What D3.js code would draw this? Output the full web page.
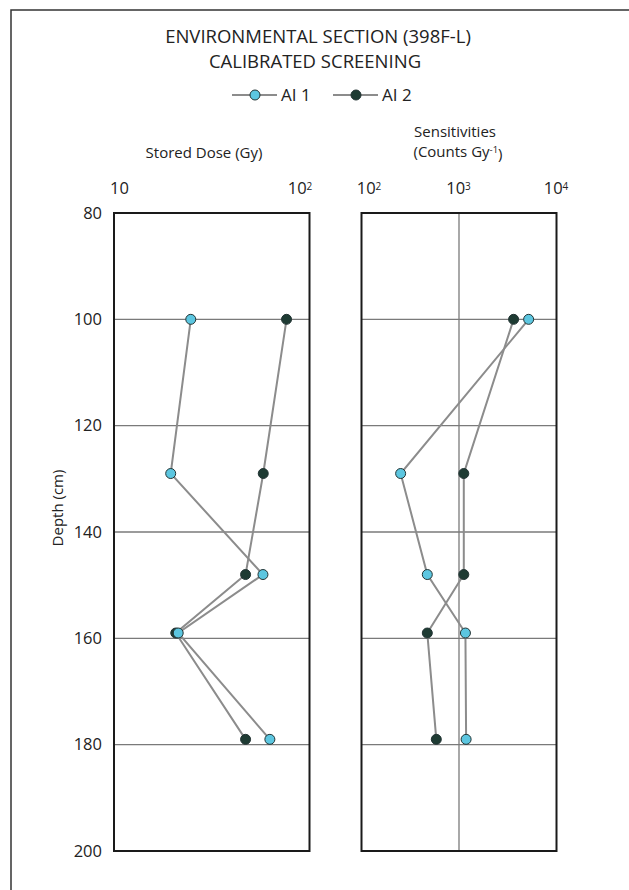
<!DOCTYPE html>
<html lang="en">
<head>
  <meta charset="UTF-8">
  <title>Environmental Section (398F-L)</title>
  <script src="https://d3js.org/d3.v7.min.js"></script>
  <style>
    body { margin: 0; background: #fff; }
    text { font-family: "Open Sans", sans-serif; fill: #222; }
  </style>
</head>
<body>
<div id="chart"></div>
<script>
// depths of the samples (cm)
const depths = [100, 129, 148, 159, 179];
// stored dose (Gy)
const doseAI1 = [24.7, 19.5, 57.8, 21.3, 62.7];
const doseAI2 = [76.3, 58.0, 47.1, 20.7, 47.1];
// sensitivities (counts / Gy)
const sensAI1 = [5180, 252, 473, 1164, 1183];
const sensAI2 = [3630, 1120, 1120, 473, 585];

const depthTicks = [80, 100, 120, 140, 160, 180, 200];
const gridDepths = [100, 120, 140, 160, 180];
const doseTicks = [10, 100];
const doseTickLabels = [["10", ""], ["10", "2"]];
const sensTicks = [100, 1000, 10000];
const sensTickLabels = [["10", "2"], ["10", "3"], ["10", "4"]];

const W = 629, H = 890;
const c1 = "#5cc6e0", c2 = "#1e3b33", lineCol = "#8c8c8c";

const svg = d3.select("#chart").append("svg")
  .attr("width", W).attr("height", H);

// outer frame (runs off right/bottom of the page)
svg.append("rect")
  .attr("x", 11).attr("y", 10)
  .attr("width", W + 20).attr("height", H + 20)
  .attr("fill", "none").attr("stroke", "#333").attr("stroke-width", 1.5);

// title
svg.append("text").attr("x", 318).attr("y", 43).attr("text-anchor", "middle")
  .style("font-size", "18.5px").text("ENVIRONMENTAL SECTION (398F-L)");
svg.append("text").attr("x", 315).attr("y", 68).attr("text-anchor", "middle")
  .style("font-size", "18.5px").text("CALIBRATED SCREENING");

// legend
const legend = svg.append("g");
[{ x: 232, label: "AI 1", fill: c1 }, { x: 333, label: "AI 2", fill: c2 }].forEach(d => {
  legend.append("line").attr("x1", d.x).attr("x2", d.x + 45).attr("y1", 95).attr("y2", 95)
    .attr("stroke", lineCol).attr("stroke-width", 2);
  legend.append("circle").attr("cx", d.x + 23).attr("cy", 95).attr("r", 5)
    .attr("fill", d.fill).attr("stroke", "#233").attr("stroke-width", 1);
  legend.append("text").attr("x", d.x + 49).attr("y", 101).style("font-size", "17px").text(d.label);
});

const yTop = 213, yBottom = 851;
const y = d3.scaleLinear().domain([80, 200]).range([yTop, yBottom]);

// depth axis
svg.append("g")
  .attr("transform", "translate(102,0)")
  .call(d3.axisLeft(y).tickValues(depthTicks).tickSize(0).tickPadding(0))
  .call(g => g.select(".domain").remove())
  .call(g => g.selectAll("text").style("font-size", "16.5px").attr("fill", "#333")
    .style("font-family", "'Open Sans', sans-serif"));

svg.append("text")
  .attr("transform", "translate(63,508) rotate(-90)")
  .attr("text-anchor", "middle").style("font-size", "15px").text("Depth (cm)");

function panel(x0, x1, domain, ticks, tickLabels, tickColors, tickShift, gridX, series) {
  const x = d3.scaleLog().domain(domain).range([x0, x1]);
  const g = svg.append("g");

  // horizontal grid
  g.selectAll(".hgrid").data(gridDepths).join("line")
    .attr("x1", x0).attr("x2", x1)
    .attr("y1", d => y(d)).attr("y2", d => y(d))
    .attr("stroke", "#7a7a7a").attr("stroke-width", 1.3);
  // vertical grid
  g.selectAll(".vgrid").data(gridX).join("line")
    .attr("x1", d => x(d)).attr("x2", d => x(d))
    .attr("y1", yTop).attr("y2", yBottom)
    .attr("stroke", "#7a7a7a").attr("stroke-width", 1.3);

  // tick labels on top
  const ax = g.append("g").attr("transform", `translate(0,${yTop - 19})`)
    .call(d3.axisTop(x).tickValues(ticks).tickSize(0).tickPadding(0).tickFormat(""));
  ax.select(".domain").remove();
  ax.selectAll(".tick text").each(function (d, i) {
    const t = d3.select(this)
      .attr("dx", tickShift[i])
      .style("font-size", "16.5px").style("font-family", "'Open Sans', sans-serif")
      .attr("fill", tickColors[i]);
    t.text(null);
    t.append("tspan").text(tickLabels[i][0]);
    if (tickLabels[i][1]) {
      t.append("tspan").attr("dy", "-0.45em").style("font-size", "10px").text(tickLabels[i][1]);
    }
  });

  const line = d3.line().x(d => x(d[0])).y(d => y(d[1]));
  series.forEach(s => {
    const pts = s.values.map((v, i) => [v, depths[i]]);
    g.append("path").attr("d", line(pts)).attr("fill", "none")
      .attr("stroke", lineCol).attr("stroke-width", 2);
  });
  series.forEach(s => {
    g.selectAll(null).data(s.values.map((v, i) => [v, depths[i]])).join("circle")
      .attr("cx", d => x(d[0])).attr("cy", d => y(d[1])).attr("r", 5)
      .attr("fill", s.fill).attr("stroke", "#233").attr("stroke-width", 1);
  });

  // frame
  g.append("rect").attr("x", x0).attr("y", yTop)
    .attr("width", x1 - x0).attr("height", yBottom - yTop)
    .attr("fill", "none").attr("stroke", "#1a1a1a").attr("stroke-width", 2);
  return x;
}

panel(114, 309.5, [10, 100], doseTicks, doseTickLabels, ["#222", "#222"], [5, -10], [],
  [{ values: doseAI2, fill: c2 }, { values: doseAI1, fill: c1 }]);
panel(361.5, 556.5, [100, 10000], sensTicks, sensTickLabels, ["#222", "#2c3a6e", "#222"], [7, -1, -1], [1000],
  [{ values: sensAI2, fill: c2 }, { values: sensAI1, fill: c1 }]);

// panel titles
svg.append("text").attr("x", 204).attr("y", 158).attr("text-anchor", "middle")
  .style("font-size", "15px").text("Stored Dose (Gy)");
svg.append("text").attr("x", 455).attr("y", 137).attr("text-anchor", "middle")
  .style("font-size", "15px").text("Sensitivities");
const sub = svg.append("text").attr("x", 458).attr("y", 157).attr("text-anchor", "middle")
  .style("font-size", "15px");
sub.append("tspan").text("(Counts Gy");
sub.append("tspan").attr("dy", "-0.45em").style("font-size", "9.5px").text("-1");
sub.append("tspan").attr("dy", "0.45em").text(")");
</script>
</body>
</html>
